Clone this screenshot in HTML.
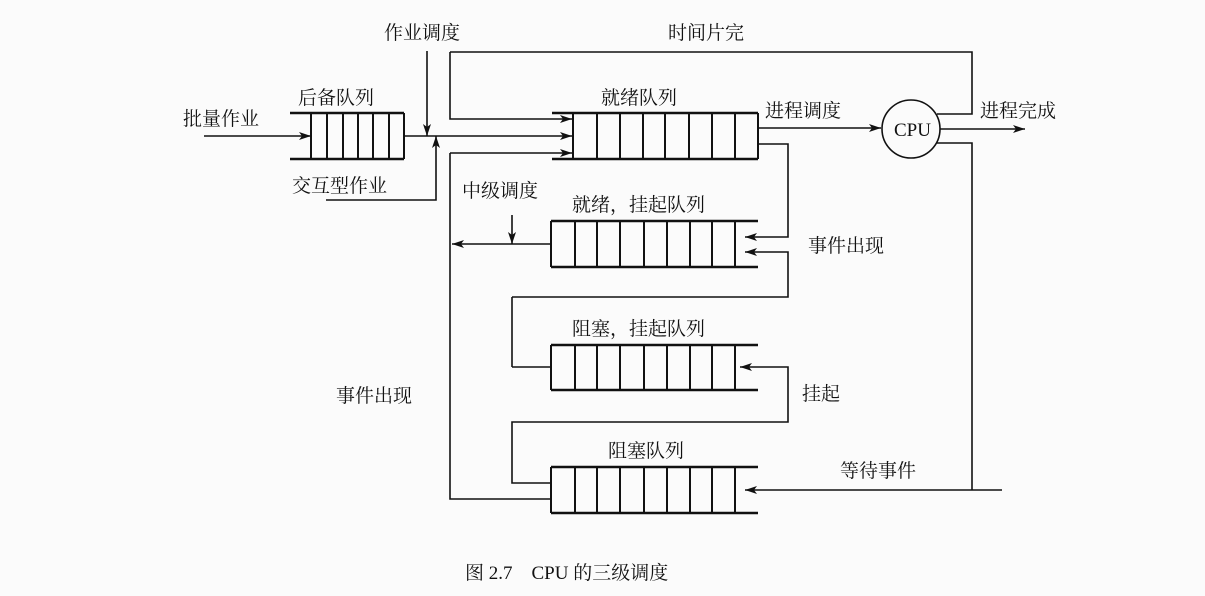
<!DOCTYPE html>
<html><head><meta charset="utf-8"><style>
html,body{margin:0;padding:0;background:#fbfbfb;}
svg{display:block;}
text{font-family:"Liberation Serif","Noto Serif CJK SC",serif;fill:#111;font-size:19px;}
</style></head><body>
<svg width="1205" height="596" viewBox="0 0 1205 596" xmlns="http://www.w3.org/2000/svg">
<defs>
<marker id="a" viewBox="0 0 12 8" refX="12" refY="4" markerWidth="12" markerHeight="8" markerUnits="userSpaceOnUse" orient="auto">
<path d="M0,0 L12,4 L0,8 L3,4 Z" fill="#111"/></marker>
</defs>
<g stroke="#111" stroke-width="1.6" fill="none">
<!-- backup queue -->
<line x1="290" y1="113" x2="404" y2="113" stroke-width="2.4"/>
<line x1="290" y1="159" x2="404" y2="159" stroke-width="2.4"/>
<path d="M311 113V159M327 113V159M343 113V159M358 113V159M373 113V159M389 113V159M404 113V159" stroke-width="2"/>
<line x1="204" y1="136" x2="311" y2="136" marker-end="url(#a)"/>
<line x1="404" y1="136" x2="572" y2="136" marker-end="url(#a)"/>
<line x1="427" y1="51" x2="427" y2="136" marker-end="url(#a)"/>
<path d="M326 200H436V136" marker-end="url(#a)"/>
<path d="M450 52V119H572" marker-end="url(#a)"/>
<path d="M450 153H572" marker-end="url(#a)"/>
<path d="M450 153V499H551"/>
<!-- ready queue -->
<line x1="552" y1="113" x2="758" y2="113" stroke-width="2.4"/>
<line x1="552" y1="159" x2="758" y2="159" stroke-width="2.4"/>
<path d="M573 113V159M597 113V159M620 113V159M643 113V159M665 113V159M689 113V159M712 113V159M735 113V159M758 113V159" stroke-width="2"/>
<line x1="758" y1="128" x2="881" y2="128" marker-end="url(#a)"/>
<circle cx="911" cy="129" r="29"/>
<path d="M450 52H972V114H937"/>
<line x1="940" y1="129" x2="1025" y2="129" marker-end="url(#a)"/>
<path d="M937 143H972V490"/>
<path d="M758 144H788V237H745" marker-end="url(#a)"/>
<!-- ready suspended -->
<line x1="551" y1="221" x2="758" y2="221" stroke-width="2.4"/>
<line x1="551" y1="267" x2="758" y2="267" stroke-width="2.4"/>
<path d="M551 221V267M575 221V267M597 221V267M620 221V267M644 221V267M667 221V267M690 221V267M712 221V267M735 221V267" stroke-width="2"/>
<path d="M512 367H551M512 297V367M512 297H788V252H745" marker-end="url(#a)"/>
<line x1="551" y1="244" x2="452" y2="244" marker-end="url(#a)"/>
<line x1="512" y1="215" x2="512" y2="244" marker-end="url(#a)"/>
<!-- blocked suspended -->
<line x1="551" y1="345" x2="758" y2="345" stroke-width="2.4"/>
<line x1="551" y1="390" x2="758" y2="390" stroke-width="2.4"/>
<path d="M551 345V390M575 345V390M597 345V390M620 345V390M644 345V390M667 345V390M690 345V390M712 345V390M735 345V390" stroke-width="2"/>
<path d="M551 483H512V422H788V367H740" marker-end="url(#a)"/>
<!-- blocked -->
<line x1="551" y1="467" x2="758" y2="467" stroke-width="2.4"/>
<line x1="551" y1="513" x2="758" y2="513" stroke-width="2.4"/>
<path d="M551 467V513M575 467V513M597 467V513M620 467V513M644 467V513M667 467V513M690 467V513M712 467V513M735 467V513" stroke-width="2"/>
<line x1="1002" y1="490" x2="745" y2="490" marker-end="url(#a)"/>
</g>
<text x="183" y="125">批量作业</text>
<text x="298" y="104">后备队列</text>
<text x="384" y="39">作业调度</text>
<text x="668" y="39">时间片完</text>
<text x="601" y="104">就绪队列</text>
<text x="765" y="117">进程调度</text>
<text x="894" y="136" font-size="17">CPU</text>
<text x="980" y="117">进程完成</text>
<text x="292" y="192">交互型作业</text>
<text x="462" y="197">中级调度</text>
<text x="572" y="211">就绪，挂起队列</text>
<text x="808" y="252">事件出现</text>
<text x="572" y="335">阻塞，挂起队列</text>
<text x="802" y="400">挂起</text>
<text x="336" y="402">事件出现</text>
<text x="608" y="457">阻塞队列</text>
<text x="840" y="477">等待事件</text>
<text x="465" y="579" font-size="25">图 2.7　CPU 的三级调度</text>
</svg>
</body></html>
